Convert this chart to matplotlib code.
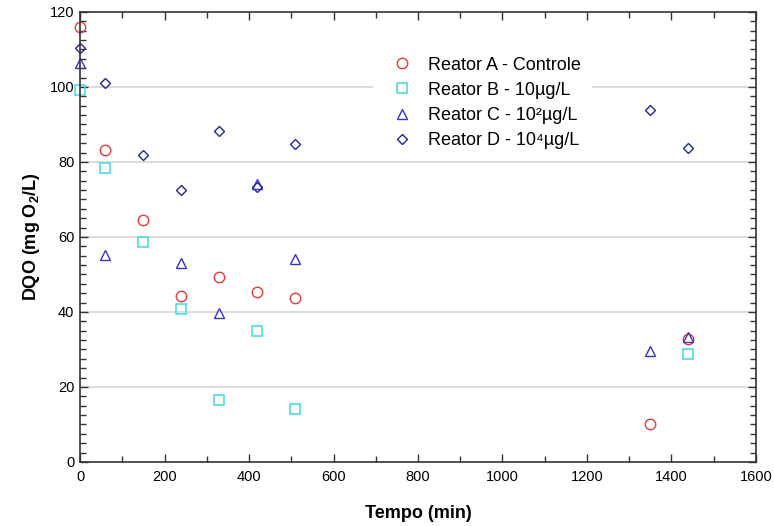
import matplotlib
matplotlib.use('Agg')
import matplotlib.pyplot as plt
from matplotlib.ticker import MultipleLocator

plt.rcParams['font.family'] = ['Liberation Sans', 'DejaVu Sans']
plt.rcParams['mathtext.fontset'] = 'custom'
plt.rcParams['mathtext.rm'] = 'Liberation Sans'
plt.rcParams['mathtext.it'] = 'Liberation Sans:italic'
plt.rcParams['mathtext.bf'] = 'Liberation Sans:bold'

# DQO over time for each reactor
tempoA = [0, 60, 150, 240, 330, 420, 510, 1350, 1440]
dqoA = [116.1, 83.1, 64.5, 44.3, 49.3, 45.3, 43.7, 10.1, 32.8]

tempoB = [0, 60, 150, 240, 330, 420, 510, 1440]
dqoB = [99.3, 78.3, 58.7, 40.8, 16.4, 34.9, 14.0, 28.7]

tempoC = [0, 60, 240, 330, 420, 510, 1350, 1440]
dqoC = [106.5, 55.2, 53.1, 39.7, 74.0, 54.2, 29.5, 33.3]

tempoD = [0, 60, 150, 240, 330, 420, 510, 1350, 1440]
dqoD = [110.3, 101.1, 81.8, 72.5, 88.3, 73.2, 84.8, 93.9, 83.8]

labels = ['Reator A - Controle', 'Reator B - 10µg/L',
          'Reator C - 10²µg/L', 'Reator D - 10⁴µg/L']

fig = plt.figure(figsize=(7.74, 5.26), dpi=100)
ax = fig.add_axes([0.1034, 0.1217, 0.8733, 0.8555])

ax.plot(tempoA, dqoA, 'o', ms=7.5, mfc='none', mec='#e8393a', mew=1.0, label=labels[0], clip_on=False)
ax.plot(tempoB, dqoB, 's', ms=7.5, mfc='none', mec='#4fdede', mew=1.2, label=labels[1], clip_on=False)
ax.plot(tempoC, dqoC, '^', ms=7.5, mfc='none', mec='#3535c8', mew=1.0, label=labels[2], clip_on=False)
ax.plot(tempoD, dqoD, 'D', ms=5.5, mfc='none', mec='#25259a', mew=1.0, label=labels[3], clip_on=False)

ax.set_xlim(0, 1600)
ax.set_ylim(0, 120)
ax.xaxis.set_major_locator(MultipleLocator(200))
ax.xaxis.set_minor_locator(MultipleLocator(100))
ax.yaxis.set_major_locator(MultipleLocator(20))
ax.yaxis.set_minor_locator(MultipleLocator(2.5))
ax.tick_params(which='both', direction='in', top=True, right=True, labelsize=10.5,
               color='#333333', width=1)
ax.tick_params(which='major', length=6)
ax.tick_params(axis='x', which='major', pad=6)
ax.tick_params(axis='y', which='major', pad=4)
ax.tick_params(which='minor', length=4)

for y in [20, 40, 60, 80, 100]:
    ax.axhline(y, color='#d9d9d9', lw=1.3, zorder=0)

for s in ax.spines.values():
    s.set_color('#333333')
    s.set_linewidth(1.2)

ax.set_xlabel('Tempo (min)', fontsize=13, fontweight='bold', labelpad=15)
ax.set_ylabel(r'DQO (mg O$_\mathbf{2}$/L)', fontsize=13, fontweight='bold', labelpad=6)

leg = ax.legend(loc='upper left', bbox_to_anchor=(0.42, 0.945), frameon=True,
                fontsize=13, handletextpad=0.45, labelspacing=0.45, borderpad=0.6)
leg.get_frame().set_edgecolor('none')
leg.get_frame().set_facecolor('white')
leg.get_frame().set_alpha(1)

fig.savefig('out.png', dpi=100)
